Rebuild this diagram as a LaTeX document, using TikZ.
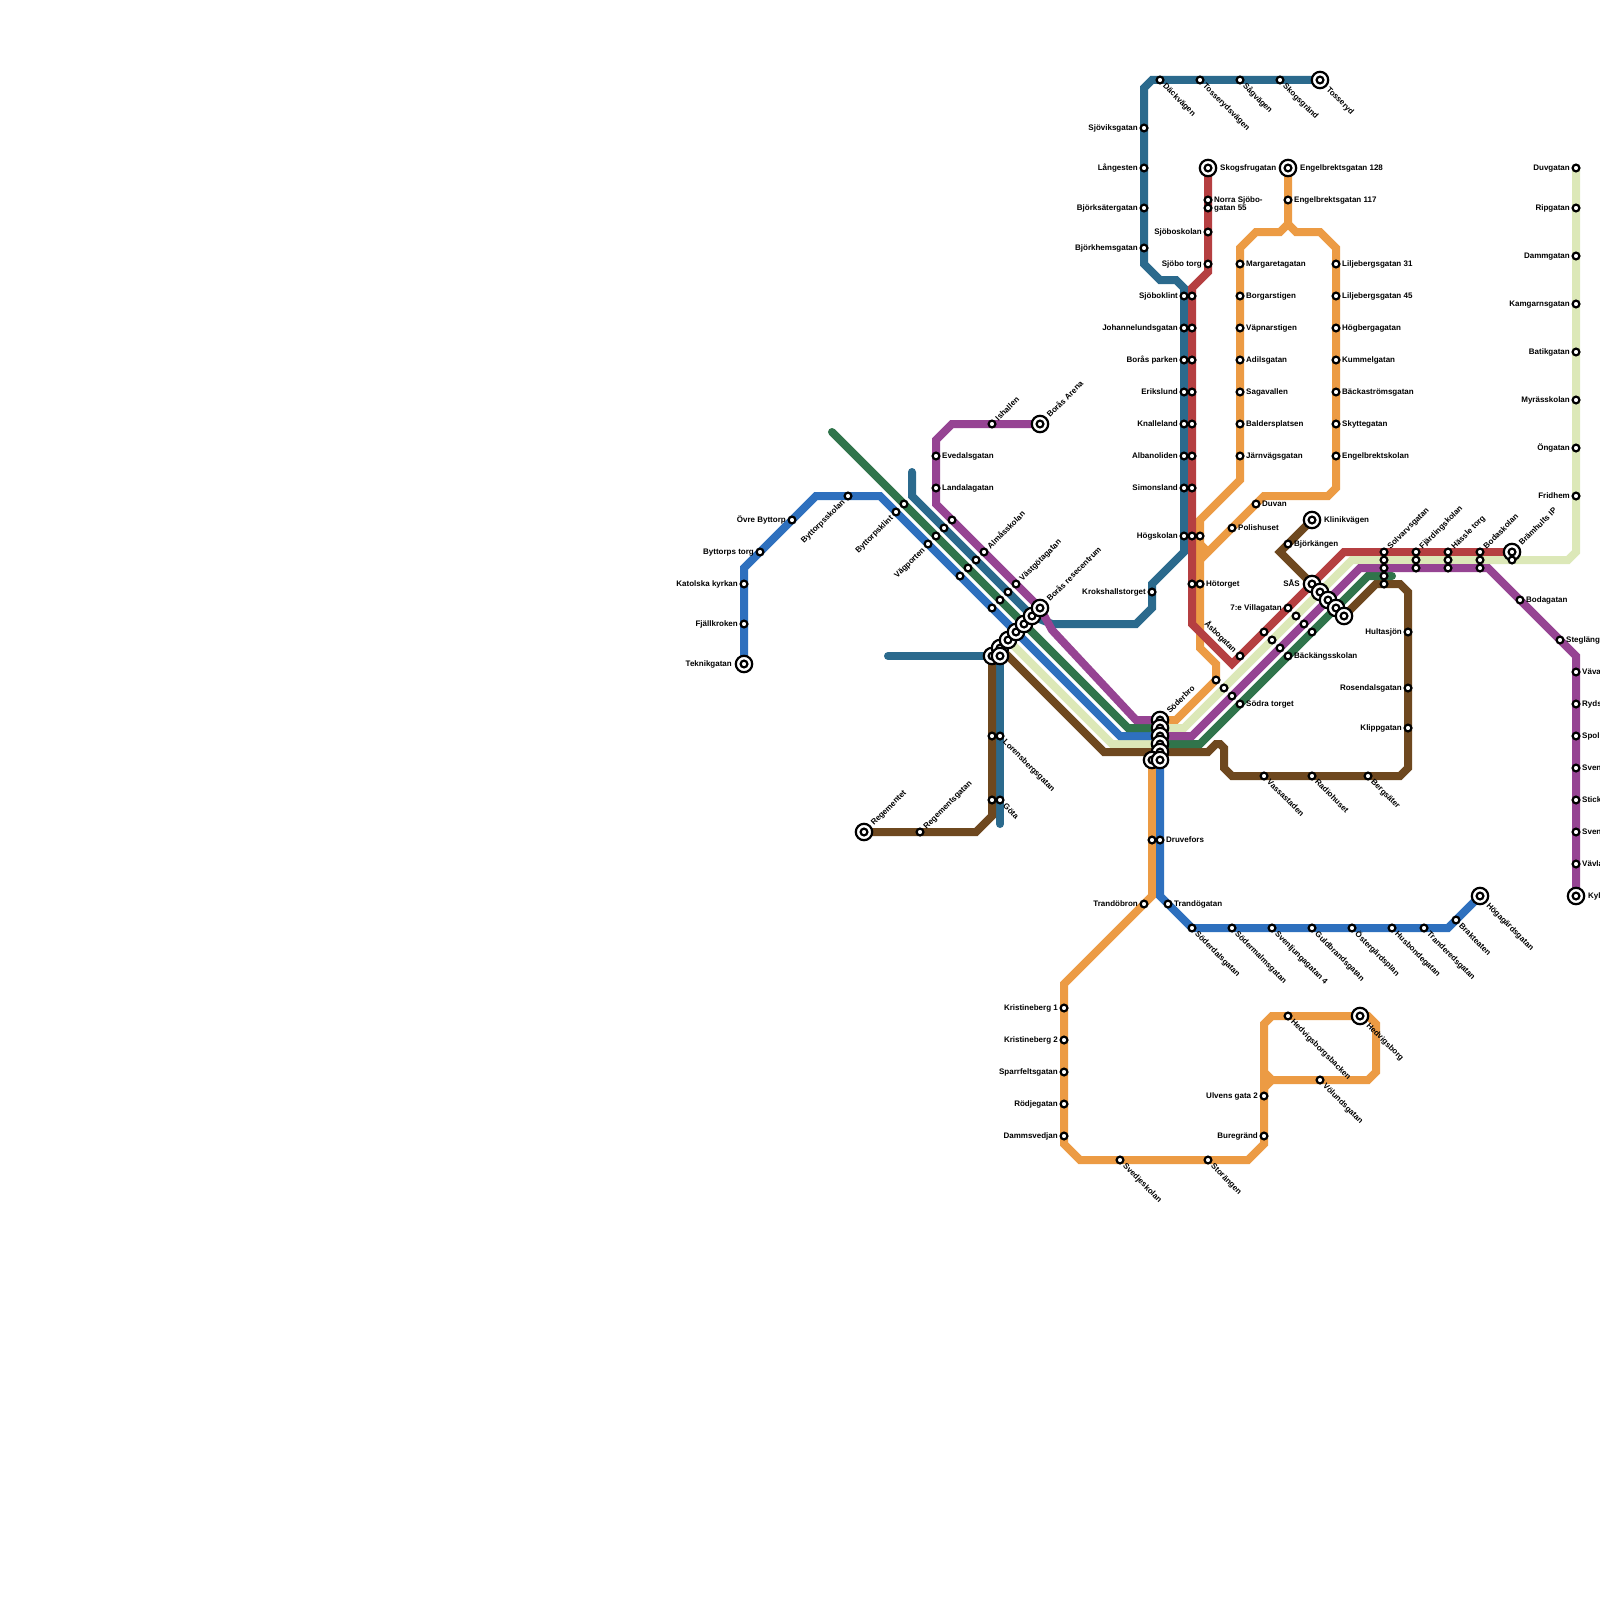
\documentclass[tikz,border=0pt]{standalone}
\usepackage{fontspec}
\setmainfont{Liberation Sans}
\pgfdeclarelayer{fg}
\pgfsetlayers{main,fg}
\definecolor{cteal}{HTML}{2B6A8D}
\definecolor{cred}{HTML}{B53F41}
\definecolor{corange}{HTML}{EC9B44}
\definecolor{cblue}{HTML}{2E70BE}
\definecolor{cgreen}{HTML}{30744B}
\definecolor{cpurple}{HTML}{964493}
\definecolor{clime}{HTML}{DCE8B8}
\definecolor{cbrown}{HTML}{6E481F}
\tikzset{
  st/.style={circle,draw=black,fill=white,line width=2.2pt,minimum size=6.8pt,inner sep=0pt},
  ring/.style={circle,draw=black,fill=white,line width=2.2pt,minimum size=16.4pt,inner sep=0pt},
  lab/.style={inner sep=0pt,text height=5.8pt,text depth=0pt,font=\bfseries\fontsize{8}{8}\selectfont,text=black},
  lr/.style={anchor=west,xshift=6pt},
  ll/.style={anchor=east,xshift=-6pt},
  lur/.style={anchor=west,xshift=4.5pt,yshift=4.5pt,rotate=45},
  ldr/.style={anchor=west,xshift=4.5pt,yshift=-4.5pt,rotate=-45},
  ldl/.style={anchor=east,xshift=-4.5pt,yshift=-4.5pt,rotate=45},
  lul/.style={anchor=east,xshift=-4.5pt,yshift=4.5pt,rotate=-45},
  br/.style={anchor=west,xshift=12pt},
  bl/.style={anchor=east,xshift=-12pt},
  bur/.style={anchor=west,xshift=8pt,yshift=8pt,rotate=45},
  bdr/.style={anchor=west,xshift=8pt,yshift=-8pt,rotate=-45},
  metro/.style={line width=8pt,line join=miter,line cap=round,miter limit=10},
}
\newcommand\mysta[2]{\node[st] (#1) at (#2) {};}
\newcommand\myter[2]{\node[ring] (#1) at (#2) {}; \node[st] (#1-c) at (#2) {};}
\newcommand\stlab[3]{\node[lab,#2] (#1-t) at (#1.center) {#3};}
\newcommand\nsta[4]{\mysta{#1}{#2}\stlab{#1}{#3}{#4}}
\newcommand\nter[4]{\myter{#1}{#2}\stlab{#1}{#3}{#4}}
\begin{document}
\begin{tikzpicture}[x=1pt,y=-1pt]
\useasboundingbox (0,0) rectangle (1600,1600);
\fill[white] (0,0) rectangle (1600,1600);
\begin{pgfonlayer}{fg}
% teal north
\nter{tosseryd}{1320,80}{bdr}{Tosseryd}
\nsta{dack}{1160,80}{ldr}{Däckvägen}
\nsta{tossv}{1200,80}{ldr}{Tosserydsvägen}
\nsta{sag}{1240,80}{ldr}{Sågvägen}
\nsta{skogsg}{1280,80}{ldr}{Skogsgränd}
\nsta{sjov}{1144,128}{ll}{Sjöviksgatan}
\nsta{lang}{1144,168}{ll}{Långesten}
\nsta{bjorks}{1144,208}{ll}{Björksätergatan}
\nsta{bjorkh}{1144,248}{ll}{Björkhemsgatan}
\nsta{a1}{1184,296}{ll}{Sjöboklint}\mysta{b1}{1192,296}
\nsta{a2}{1184,328}{ll}{Johannelundsgatan}\mysta{b2}{1192,328}
\nsta{a3}{1184,360}{ll}{Borås parken}\mysta{b3}{1192,360}
\nsta{a4}{1184,392}{ll}{Erikslund}\mysta{b4}{1192,392}
\nsta{a5}{1184,424}{ll}{Knalleland}\mysta{b5}{1192,424}
\nsta{a6}{1184,456}{ll}{Albanoliden}\mysta{b6}{1192,456}
\nsta{a7}{1184,488}{ll}{Simonsland}\mysta{b7}{1192,488}
\nsta{a8}{1184,536}{ll}{Högskolan}\mysta{b8}{1192,536}\mysta{c8}{1200,536}
\mysta{b9}{1192,584}\nsta{c9}{1200,584}{lr}{Hötorget}
\nsta{kroks}{1152,592}{ll}{Krokshallstorget}
% red north
\nter{skogsf}{1208,168}{br}{Skogsfrugatan}
\mysta{norra1}{1208,200}\mysta{norra2}{1208,208}
\node[lab,anchor=west,align=left,text height=,text depth=] (norra-t) at (1214,204) {Norra Sjöbo-\\gatan 55};
\nsta{sjoboskol}{1208,232}{ll}{Sjöboskolan}
\nsta{sjobot}{1208,264}{ll}{Sjöbo torg}
% orange north
\nter{eng128}{1288,168}{br}{Engelbrektsgatan 128}
\nsta{eng117}{1288,200}{lr}{Engelbrektsgatan 117}
\nsta{o1}{1240,264}{lr}{Margaretagatan}
\nsta{o2}{1240,296}{lr}{Borgarstigen}
\nsta{o3}{1240,328}{lr}{Väpnarstigen}
\nsta{o4}{1240,360}{lr}{Adilsgatan}
\nsta{o5}{1240,392}{lr}{Sagavallen}
\nsta{o6}{1240,424}{lr}{Baldersplatsen}
\nsta{o7}{1240,456}{lr}{Järnvägsgatan}
\nsta{p1}{1336,264}{lr}{Liljebergsgatan 31}
\nsta{p2}{1336,296}{lr}{Liljebergsgatan 45}
\nsta{p3}{1336,328}{lr}{Högbergagatan}
\nsta{p4}{1336,360}{lr}{Kummelgatan}
\nsta{p5}{1336,392}{lr}{Bäckaströmsgatan}
\nsta{p6}{1336,424}{lr}{Skyttegatan}
\nsta{p7}{1336,456}{lr}{Engelbrektskolan}
\nsta{duvan}{1256,504}{lr}{Duvan}
\nsta{polis}{1232,528}{lr}{Polishuset}
% brown north
\nter{klinik}{1312,520}{br}{Klinikvägen}
\nsta{bjorka}{1288,544}{lr}{Björkängen}
% SAS cluster
\nter{sas}{1312,584}{bl}{SÅS}
\myter{sas2}{1320,592}\myter{sas3}{1328,600}\myter{sas4}{1336,608}\myter{sas5}{1344,616}
% diagonal stations east
\nsta{vill1}{1288,608}{ll}{7:e Villagatan}\mysta{vill2}{1296,616}\mysta{vill3}{1304,624}\mysta{vill4}{1312,632}
\mysta{bak1}{1264,632}\mysta{bak2}{1272,640}\mysta{bak3}{1280,648}\nsta{bak4}{1288,656}{lr}{Bäckängsskolan}
\nsta{asbo}{1240,656}{lul}{Åsbogatan}
\mysta{so1}{1216,680}\mysta{so2}{1224,688}\mysta{so3}{1232,696}\nsta{so4}{1240,704}{lr}{Södra torget}
% east trunk
\nsta{sol1}{1384,552}{lur}{Solvarvsgatan}\mysta{sol2}{1384,560}\mysta{sol3}{1384,568}\mysta{sol4}{1384,576}\mysta{sol5}{1384,584}
\nsta{fj1}{1416,552}{lur}{Fjärdingskolan}\mysta{fj2}{1416,560}\mysta{fj3}{1416,568}
\nsta{ha1}{1448,552}{lur}{Hässle torg}\mysta{ha2}{1448,560}\mysta{ha3}{1448,568}
\nsta{bo1}{1480,552}{lur}{Bodaskolan}\mysta{bo2}{1480,560}\mysta{bo3}{1480,568}
\nter{bram}{1512,552}{bur}{Brämhults IP}\mysta{bram2}{1512,560}
\nsta{boda}{1520,600}{lr}{Bodagatan}
\nsta{steg}{1560,640}{lr}{Stegläng}
% lime east
\nsta{l1}{1576,168}{ll}{Duvgatan}
\nsta{l2}{1576,208}{ll}{Ripgatan}
\nsta{l3}{1576,256}{ll}{Dammgatan}
\nsta{l4}{1576,304}{ll}{Kamgarnsgatan}
\nsta{l5}{1576,352}{ll}{Batikgatan}
\nsta{l6}{1576,400}{ll}{Myrässkolan}
\nsta{l7}{1576,448}{ll}{Öngatan}
\nsta{l8}{1576,496}{ll}{Fridhem}
% purple east
\nsta{m1}{1576,672}{lr}{Väva}
\nsta{m2}{1576,704}{lr}{Ryds}
\nsta{m3}{1576,736}{lr}{Spol}
\nsta{m4}{1576,768}{lr}{Sven}
\nsta{m5}{1576,800}{lr}{Stick}
\nsta{m6}{1576,832}{lr}{Sven}
\nsta{m7}{1576,864}{lr}{Vävla}
\nter{kyl}{1576,896}{br}{Kyl}
% brown east
\nsta{hult}{1408,632}{ll}{Hultasjön}
\nsta{ros}{1408,688}{ll}{Rosendalsgatan}
\nsta{klipp}{1408,728}{ll}{Klippgatan}
\nsta{berg}{1368,776}{ldr}{Bergsäter}
\nsta{radio}{1312,776}{ldr}{Radiohuset}
\nsta{vass}{1264,776}{ldr}{Vassastaden}
% west blue
\nter{tekn}{744,664}{bl}{Teknikgatan}
\nsta{fjall}{744,624}{ll}{Fjällkroken}
\nsta{kat}{744,584}{ll}{Katolska kyrkan}
\nsta{bytt}{760,552}{ll}{Byttorps torg}
\nsta{ovre}{792,520}{ll}{Övre Byttorp}
\nsta{byskol}{848,496}{ldl}{Byttorpsskolan}
\nsta{bykl1}{896,512}{ldl}{Byttorpsklint}\mysta{bykl2}{904,504}
\nsta{vag1}{928,544}{ldl}{Vägporten}\mysta{vag2}{936,536}\mysta{vag3}{944,528}\mysta{vag4}{952,520}
\mysta{alm1}{960,576}\mysta{alm2}{968,568}\mysta{alm3}{976,560}\nsta{alm4}{984,552}{lur}{Almåsskolan}
\mysta{vast1}{992,608}\mysta{vast2}{1000,600}\mysta{vast3}{1008,592}\nsta{vast4}{1016,584}{lur}{Västgötagatan}
% purple NW
\nsta{eved}{936,456}{lr}{Evedalsgatan}
\nsta{land}{936,488}{lr}{Landalagatan}
\nsta{ishal}{992,424}{lur}{Ishallen}
\nter{arena}{1040,424}{bur}{Borås Arena}
% west hub
\myter{hw1}{992,656}\myter{hw2}{1000,648}\myter{hw3}{1000,656}\myter{hw4}{1008,640}\myter{hw5}{1016,632}\myter{hw6}{1024,624}\myter{hw7}{1032,616}
\nter{reso}{1040,608}{bur}{Borås resecentrum}
% brown / teal SW
\mysta{lor1}{992,736}\nsta{lor2}{1000,736}{ldr}{Lorensbergsgatan}
\mysta{got1}{992,800}\nsta{got2}{1000,800}{ldr}{Göta}
\nter{reg}{864,832}{bur}{Regementet}
\nsta{regg}{920,832}{lur}{Regementsgatan}
% south hub
\nter{hs1}{1160,720}{bur}{Söderbro}
\myter{hs2}{1160,728}\myter{hs3}{1160,736}\myter{hs4}{1160,744}\myter{hs5}{1160,752}
\myter{hs6}{1152,760}\myter{hs7}{1160,760}
\mysta{dru1}{1152,840}\nsta{dru2}{1160,840}{lr}{Druvefors}
\nsta{tbro}{1144,904}{ll}{Trandöbron}
\nsta{tgat}{1168,904}{lr}{Trandögatan}
% blue south
\nsta{sod}{1192,928}{ldr}{Söderdalsgatan}
\nsta{sodm}{1232,928}{ldr}{Södermalmsgatan}
\nsta{sven4}{1272,928}{ldr}{Svenljungagatan 4}
\nsta{guld}{1312,928}{ldr}{Guldbrandsgatan}
\nsta{oste}{1352,928}{ldr}{Östergärdsplan}
\nsta{husb}{1392,928}{ldr}{Husbondegatan}
\nsta{trand}{1424,928}{ldr}{Tranderedsgatan}
\nsta{brak}{1456,920}{ldr}{Brakteaten}
\nter{hoga}{1480,896}{bdr}{Högagärdsgatan}
% orange south
\nsta{k1}{1064,1008}{ll}{Kristineberg 1}
\nsta{k2}{1064,1040}{ll}{Kristineberg 2}
\nsta{k3}{1064,1072}{ll}{Sparrfeltsgatan}
\nsta{k4}{1064,1104}{ll}{Rödjegatan}
\nsta{k5}{1064,1136}{ll}{Dammsvedjan}
\nsta{sved}{1120,1160}{ldr}{Svedjeskolan}
\nsta{stor}{1208,1160}{ldr}{Storängen}
\nsta{bure}{1264,1136}{ll}{Buregränd}
\nsta{ulv}{1264,1096}{ll}{Ulvens gata 2}
\nsta{volu}{1320,1080}{ldr}{Völundsgatan}
\nsta{hedb}{1288,1016}{ldr}{Hedvigsborgsbacken}
\nter{hedv}{1360,1016}{bdr}{Hedvigsborg}
\end{pgfonlayer}
\coordinate (greenW) at (832,432);
\coordinate (greenE) at (1392,576);
\coordinate (tealN) at (912,472);
\coordinate (tealW) at (888,656);
\coordinate (tealS) at (1000,824);
% teal
\draw[metro,cteal] (tosseryd.center)--(1152,80)--(1144,88)--(1144,264)--(1160,280)--(1176,280)--(1184,288)--(1184,552)--(1152,584)--(1152,608)--(1136,624)--(1052,624)--(1032,616)--(912,496)--(tealN);
\draw[metro,cteal] (tealW)--(hw3.center)--(tealS);
% orange
\draw[metro,corange] (eng128.center)--(1288,224)--(1280,232)--(1256,232)--(1240,248)--(1240,480)--(1200,520)--(1200,648)--(1216,664)--(so1.center)--(1176,720)--(hs1.center);
\draw[metro,corange] (1288,224)--(1296,232)--(1320,232)--(1336,248)--(1336,488)--(1328,496)--(1264,496)--(1200,560);
\draw[metro,corange] (1200,544)--(1208,552);
\draw[metro,corange] (hs6.center)--(1152,896)--(1064,984)--(1064,1144)--(1080,1160)--(1248,1160)--(1264,1144)--(1264,1024)--(1272,1016)--(hedv.center)--(1368,1016)--(1376,1024)--(1376,1072)--(1368,1080)--(1272,1080)--(1264,1072);
\draw[metro,corange] (ulv.center)--(1264,1088)--(1272,1080);
% red
\draw[metro,cred] (bram.center)--(1344,552)--(1232,664)--(1192,624)--(1192,288)--(1208,272)--(skogsf.center);
% lime
\draw[metro,clime] (l1.center)--(1576,552)--(1568,560)--(1352,560)--(1184,728)--(1160,728)--(1160,744)--(1112,744)--(hw4.center);
% brown
\draw[metro,cbrown] (hw2.center)--(1104,752)--(1208,752)--(1216,744)--(1220,744)--(1224,748)--(1224,768)--(1232,776)--(1400,776)--(1408,768)--(1408,592)--(1400,584)--(1376,584)--(sas5.center);
\draw[metro,cbrown] (klinik.center)--(1280,552)--(sas.center);
\draw[metro,cbrown] (reg.center)--(976,832)--(992,816)--(hw1.center);
% blue
\draw[metro,cblue] (tekn.center)--(744,568)--(816,496)--(880,496)--(1120,736)--(1160,736)--(1160,896)--(1192,928)--(1448,928)--(hoga.center);
% green
\draw[metro,cgreen] (greenW)--(1128,728)--(1160,728)--(1160,744)--(1200,744)--(1368,576)--(greenE);
% purple
\draw[metro,cpurple] (kyl.center)--(1576,656)--(1488,568)--(1360,568)--(1192,736)--(1160,736)--(1160,720)--(1136,720)--(1052,630)--(reso.center)--(936,504)--(936,440)--(952,424)--(arena.center);
\end{tikzpicture}
\end{document}
